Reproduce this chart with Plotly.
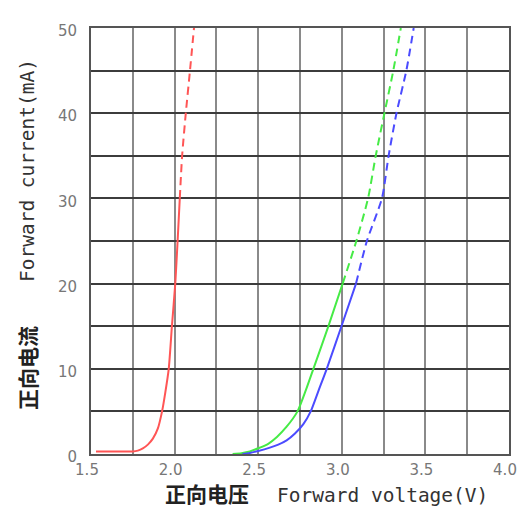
import plotly.graph_objects as go

# Red LED (solid part then dashed extension)
red_v_solid = [1.53, 1.75, 1.78, 1.81, 1.84, 1.87, 1.90, 1.925, 1.945, 1.965, 1.984, 2.004, 2.018, 2.031]
red_i_solid = [0.3, 0.3, 0.4, 0.65, 1.1, 1.8, 3.0, 5, 7.3, 10, 15, 20, 25, 30]
red_v_dash = [2.031, 2.045, 2.067, 2.092, 2.116]
red_i_dash = [30, 35, 40, 45, 50]

# Green LED
green_v_solid = [2.347, 2.40, 2.45, 2.50, 2.56, 2.612, 2.67, 2.735, 2.785, 2.83, 2.92, 3.005]
green_i_solid = [0, 0.1, 0.3, 0.67, 1.2, 2.0, 3.2, 5, 7.5, 10, 15, 20]
green_v_dash = [3.005, 3.087, 3.157, 3.203, 3.255, 3.308, 3.353]
green_i_dash = [20, 25, 30, 35, 40, 45, 50]

# Blue LED
blue_v_solid = [2.406, 2.45, 2.50, 2.57, 2.62, 2.67, 2.72, 2.77, 2.814, 2.862, 2.91, 2.998, 3.085]
blue_i_solid = [0, 0.12, 0.35, 0.75, 1.1, 1.6, 2.4, 3.5, 5, 7.5, 10, 15, 20]
blue_v_dash = [3.085, 3.15, 3.24, 3.28, 3.327, 3.386, 3.43]
blue_i_dash = [20, 25, 30, 35, 40, 45, 50]

x_ticks = [1.5, 1.75, 2.0, 2.25, 2.5, 2.75, 3.0, 3.25, 3.5, 3.75, 4.0]
x_labels = ["1.5", "", "2.0", "", "2.5", "", "3.0", "", "3.5", "", "4.0"]
y_ticks = [0, 5, 10, 15, 20, 25, 30, 35, 40, 45, 50]
y_labels = ["0", "", "10", "", "20", "", "30", "", "40", "", "50"]

RED = "rgb(255,85,85)"
GREEN = "rgb(70,235,70)"
BLUE = "rgb(75,75,255)"

fig = go.Figure()
for vs, is_, vd, id_, c in [
    (red_v_solid, red_i_solid, red_v_dash, red_i_dash, RED),
    (green_v_solid, green_i_solid, green_v_dash, green_i_dash, GREEN),
    (blue_v_solid, blue_i_solid, blue_v_dash, blue_i_dash, BLUE),
]:
    fig.add_trace(go.Scatter(x=vs, y=is_, mode="lines",
                             line=dict(color=c, width=2, shape="spline", smoothing=0.6),
                             showlegend=False, hoverinfo="skip"))
    fig.add_trace(go.Scatter(x=vd, y=id_, mode="lines",
                             line=dict(color=c, width=2, dash="8px,5px", shape="spline", smoothing=0.6),
                             showlegend=False, hoverinfo="skip"))

tick_font = dict(family="DejaVu Sans", size=15, color="#777777")

def px(xp):
    return (xp - 91) / 425

def py(yp):
    return (454 - yp) / 426

# page has an 8px body margin: figure drawn at (8, 8)
fig.update_layout(
    width=521, height=501,
    margin=dict(l=83, r=13, t=20, b=55),
    paper_bgcolor="white", plot_bgcolor="white",
    xaxis=dict(range=[1.5, 4.0], tickvals=x_ticks, ticktext=x_labels,
               showgrid=True, gridcolor="#8a8a8a", gridwidth=2,
               showline=True, linecolor="#555555", linewidth=2, mirror=True,
               zeroline=False, ticks="", tickfont=tick_font, ticklabelstandoff=1,
               ticklabelshift=-4),
    yaxis=dict(range=[0, 50], tickvals=y_ticks, ticktext=y_labels,
               showgrid=True, gridcolor="#3c3c3c", gridwidth=2,
               showline=True, linecolor="#555555", linewidth=2, mirror=True,
               zeroline=False, ticks="", tickfont=tick_font, ticklabelstandoff=9,
               ticklabelshift=3),
    annotations=[
        dict(text="<b>正向电压</b>", xref="paper", yref="paper", x=px(209), y=py(493),
             showarrow=False, font=dict(family="Noto Sans CJK SC", size=21, color="#222222"),
             xanchor="center", yanchor="middle"),
        dict(text="Forward voltage(V)", xref="paper", yref="paper", x=px(387), y=py(495),
             showarrow=False, font=dict(family="DejaVu Sans Mono", size=19.5, color="#333333"),
             xanchor="center", yanchor="middle"),
        dict(text="Forward current(mA)", xref="paper", yref="paper", x=px(27), y=py(171),
             showarrow=False, textangle=-90, font=dict(family="DejaVu Sans Mono", size=19.5, color="#333333"),
             xanchor="center", yanchor="middle"),
        dict(text="<b>正向电流</b>", xref="paper", yref="paper", x=px(26), y=py(368),
             showarrow=False, textangle=-90, font=dict(family="Noto Sans CJK SC", size=21, color="#222222"),
             xanchor="center", yanchor="middle"),
    ],
)

fig.write_html("out.html")
